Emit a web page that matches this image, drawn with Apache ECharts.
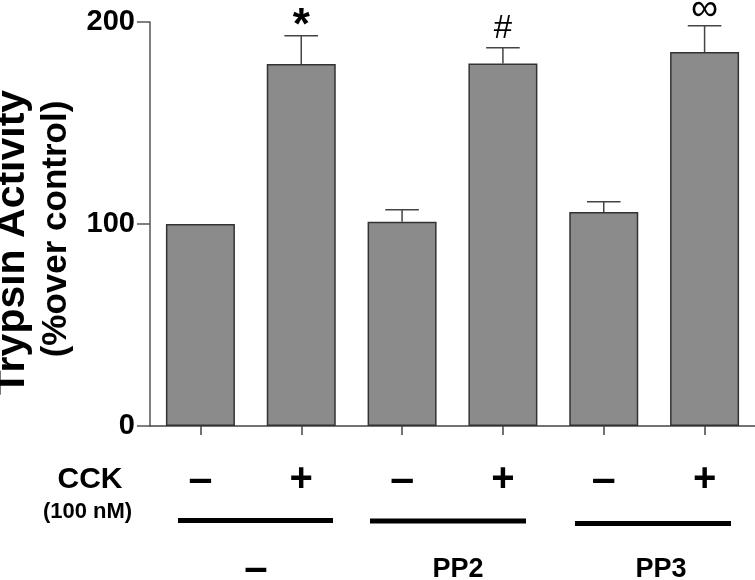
<!DOCTYPE html>
<html>
<head>
<meta charset="utf-8">
<script src="https://cdn.jsdelivr.net/npm/echarts@6/dist/echarts.min.js"></script>
<style>html,body{margin:0;padding:0;background:#fff}#c{width:755px;height:580px}</style>
</head>
<body>
<div id="c"></div>
<script>
// ---- data ----
var cckLabels = ['\u2013', '+', '\u2013', '+', '\u2013', '+'];
var values = [100, 179.2, 101.1, 179.4, 105.9, 185.1];
var errors = [0, 14, 6, 7.9, 5.1, 13.1];
var marks = ['', '*', '', '#', '', '\u221E'];
var groupLabels = ['\u2013', 'PP2', 'PP3'];
var yTicks = [0, 100, 200];

var FONT = '"Liberation Sans", Arial, Helvetica, sans-serif';
var chart = echarts.init(document.getElementById('c'), null, {renderer: 'canvas'});

var errData = values.map(function (v, i) { return [i, v, errors[i]]; });

var markStyle = {
  '*': {size: 44, weight: 'bold', dy: -9},
  '#': {size: 33, weight: 'normal', dy: -19},
  '\u221E': {size: 38, weight: 'normal', dy: -16}
};

var option = {
  backgroundColor: '#fff',
  animation: false,
  grid: {left: 150, top: 22, width: 607, height: 404, containLabel: false},
  xAxis: {
    type: 'category',
    data: cckLabels,
    boundaryGap: true,
    axisLine: {show: true, lineStyle: {color: '#444', width: 1.5}},
    axisTick: {show: true, alignWithLabel: true, length: 9, lineStyle: {color: '#444', width: 1.5}},
    axisLabel: {
      show: true, margin: 54, verticalAlign: 'middle',
      formatter: function (v) { return v === '+' ? '{p|+}' : '{m|' + v + '}'; },
      rich: {
        p: {fontSize: 40, fontWeight: 'bold', color: '#000', fontFamily: FONT},
        m: {fontSize: 43, fontWeight: 'bold', color: '#000', fontFamily: FONT, padding: [0, 0, 0, 0]}
      }
    },
    splitLine: {show: false}
  },
  yAxis: {
    type: 'value',
    min: yTicks[0], max: yTicks[yTicks.length - 1], interval: 100,
    axisLine: {show: true, lineStyle: {color: '#555', width: 1.5}},
    axisTick: {show: true, length: 13, lineStyle: {color: '#555', width: 1.5}},
    axisLabel: {margin: 15, fontSize: 29, fontWeight: 'bold', color: '#000', fontFamily: FONT},
    splitLine: {show: false}
  },
  series: [
    {
      type: 'bar',
      data: values,
      barWidth: 69,
      itemStyle: {color: '#8b8b8b', borderColor: '#333', borderWidth: 1.5},
      z: 2
    },
    {
      type: 'custom',
      data: errData,
      z: 3,
      renderItem: function (params, api) {
        var i = api.value(0), v = api.value(1), e = api.value(2), m = marks[params.dataIndex];
        var base = api.coord([i, v]);
        var top = api.coord([i, v + e]);
        var half = 16.8;
        var children = [];
        if (e > 0) {
          children.push({type: 'line', shape: {x1: base[0], y1: base[1], x2: top[0], y2: top[1]}, style: {stroke: '#444', lineWidth: 1.5}});
          children.push({type: 'line', shape: {x1: top[0] - half, y1: top[1], x2: top[0] + half, y2: top[1]}, style: {stroke: '#444', lineWidth: 1.5}});
        }
        if (m) {
          var s = markStyle[m];
          children.push({type: 'text', x: top[0], y: top[1] + s.dy, style: {text: m, font: s.weight + ' ' + s.size + 'px ' + FONT, fill: '#000', align: 'center', verticalAlign: 'middle'}});
        }
        return {type: 'group', children: children};
      }
    }
  ],
  graphic: [
    {type: 'text', x: 13, y: 242.5, rotation: Math.PI / 2, style: {text: 'Trypsin Activity', font: 'bold 41px ' + FONT, fill: '#000', align: 'center', verticalAlign: 'middle'}},
    {type: 'text', x: 56, y: 229, rotation: Math.PI / 2, style: {text: '(%over control)', font: 'bold 35px ' + FONT, fill: '#000', align: 'center', verticalAlign: 'middle'}},
    {type: 'text', x: 90, y: 480, style: {text: 'CCK', font: 'bold 30px ' + FONT, fill: '#000', align: 'center', verticalAlign: 'middle'}},
    {type: 'text', x: 87.5, y: 512, style: {text: '(100 nM)', font: 'bold 22px ' + FONT, fill: '#000', align: 'center', verticalAlign: 'middle'}},
    {type: 'rect', shape: {x: 178, y: 518, width: 155, height: 5}, style: {fill: '#000'}},
    {type: 'rect', shape: {x: 370, y: 518.5, width: 156, height: 5}, style: {fill: '#000'}},
    {type: 'rect', shape: {x: 575, y: 521, width: 156, height: 5}, style: {fill: '#000'}},
    {type: 'text', x: 256, y: 569, style: {text: groupLabels[0], font: 'bold 42px ' + FONT, fill: '#000', align: 'center', verticalAlign: 'middle'}},
    {type: 'text', x: 458, y: 570, style: {text: groupLabels[1], font: 'bold 27px ' + FONT, fill: '#000', align: 'center', verticalAlign: 'middle'}},
    {type: 'text', x: 661, y: 570, style: {text: groupLabels[2], font: 'bold 27px ' + FONT, fill: '#000', align: 'center', verticalAlign: 'middle'}}
  ]
};
chart.setOption(option);
</script>
</body>
</html>
